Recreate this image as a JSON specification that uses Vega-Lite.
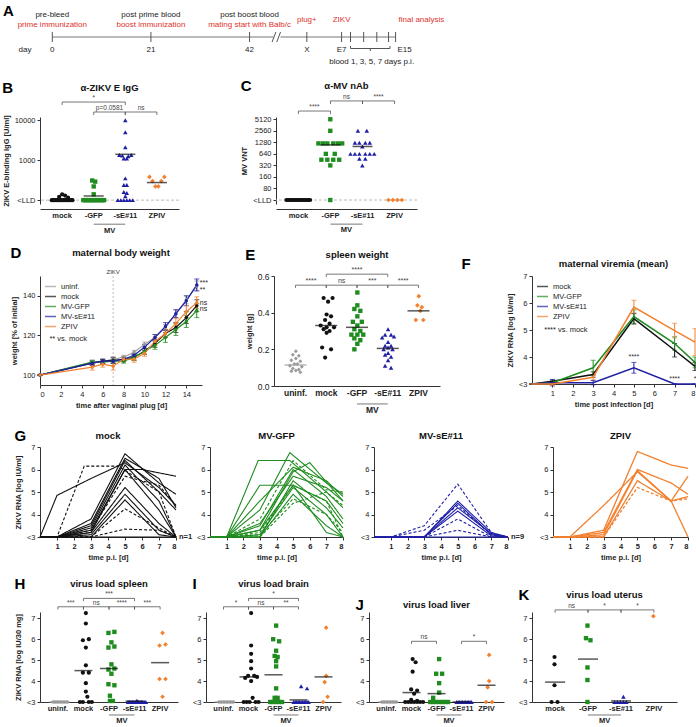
{
"$schema": "https://vega.github.io/schema/vega-lite/v6.json",
"padding": {"left": 2, "top": 4, "right": 2, "bottom": 2},
"columns": 1,
"align": "none",
"spacing": 12,
"resolve": {"scale": {"color": "independent", "shape": "independent", "strokeDash": "independent", "size": "independent"}, "legend": {"color": "independent", "shape": "independent", "strokeDash": "independent", "size": "independent"}},
"config": {
  "font": "Liberation Sans",
  "view": {"stroke": null},
  "axis": {"grid": false, "labelFontSize": 7.5, "titleFontSize": 7.5, "titleFontWeight": "bold", "domainColor": "#333", "tickColor": "#333", "labelColor": "#222", "titleColor": "#222", "tickSize": 3, "labelPadding": 2, "titlePadding": 4, "labelOverlap": false},
  "title": {"fontSize": 9.5, "fontWeight": "bold", "color": "#111", "offset": 3},
  "legend": {"labelFontSize": 7.5, "labelColor": "#222"}
},
"datasets": {
  "TL": [
    {"t": 0, "txt": "pre-bleed", "row": "black"}, {"t": 21, "txt": "post prime blood", "row": "black"}, {"t": 42, "txt": "post boost blood", "row": "black"},
    {"t": 0, "txt": "prime immunization", "row": "red"}, {"t": 21, "txt": "boost immunization", "row": "red"}, {"t": 42, "txt": "mating start with Balb/c", "row": "red"},
    {"t": 54.2, "txt": "plug+", "row": "redmid"}, {"t": 61.6, "txt": "ZIKV", "row": "redmid"}, {"t": 78.6, "txt": "final analysis", "row": "redmid"},
    {"t": -5.8, "txt": "day", "row": "bottom"}, {"t": 0, "txt": "0", "row": "bottom"}, {"t": 21, "txt": "21", "row": "bottom"}, {"t": 42, "txt": "42", "row": "bottom"},
    {"t": 54.2, "txt": "X", "row": "bottom"}, {"t": 61.6, "txt": "E7", "row": "bottom"}, {"t": 75.0, "txt": "E15", "row": "bottom"},
    {"t": 68.0, "txt": "blood 1, 3, 5, 7 days p.i.", "row": "blood"}
  ],
  "TLt": [{"t": 0}, {"t": 21}, {"t": 42}, {"t": 54.2}, {"t": 61.6}, {"t": 63.5}, {"t": 66.3}, {"t": 69.1}, {"t": 71.6}, {"t": 73.1}],
  "Bp": [
    {"g":"mock","id":2,"v":100},{"g":"mock","id":3,"v":100},{"g":"mock","id":4,"v":100},{"g":"mock","id":5,"v":100},{"g":"mock","id":6,"v":100},{"g":"mock","id":7,"v":100},{"g":"mock","id":8,"v":100},{"g":"mock","id":9,"v":100},{"g":"mock","id":10,"v":100},{"g":"mock","id":11,"v":100},{"g":"mock","id":12,"v":100},{"g":"mock","id":13,"v":100},{"g":"mock","id":14,"v":100},{"g":"mock","id":15,"v":100},{"g":"mock","id":16,"v":100},{"g":"mock","id":7,"v":120},{"g":"mock","id":9,"v":140},{"g":"mock","id":11,"v":130},{"g":"mock","id":13,"v":115},
    {"g":"-GFP","id":2,"v":100},{"g":"-GFP","id":3,"v":100},{"g":"-GFP","id":4,"v":100},{"g":"-GFP","id":5,"v":100},{"g":"-GFP","id":6,"v":100},{"g":"-GFP","id":7,"v":100},{"g":"-GFP","id":8,"v":100},{"g":"-GFP","id":9,"v":100},{"g":"-GFP","id":10,"v":100},{"g":"-GFP","id":11,"v":100},{"g":"-GFP","id":12,"v":100},{"g":"-GFP","id":13,"v":100},{"g":"-GFP","id":14,"v":100},{"g":"-GFP","id":15,"v":100},{"g":"-GFP","id":16,"v":100},{"g":"-GFP","id":8,"v":310},{"g":"-GFP","id":10,"v":290},{"g":"-GFP","id":9,"v":220},{"g":"-GFP","id":9,"v":140},
    {"g":"-sE#11","id":9,"v":10000},{"g":"-sE#11","id":9,"v":5000},{"g":"-sE#11","id":9,"v":2100},{"g":"-sE#11","id":5,"v":1350},{"g":"-sE#11","id":7,"v":1300},{"g":"-sE#11","id":11,"v":1250},{"g":"-sE#11","id":13,"v":1350},{"g":"-sE#11","id":8,"v":1100},{"g":"-sE#11","id":10,"v":1100},{"g":"-sE#11","id":9,"v":350},{"g":"-sE#11","id":8,"v":240},{"g":"-sE#11","id":10,"v":240},{"g":"-sE#11","id":8,"v":160},{"g":"-sE#11","id":10,"v":150},{"g":"-sE#11","id":9,"v":125},{"g":"-sE#11","id":4,"v":100},{"g":"-sE#11","id":6,"v":100},{"g":"-sE#11","id":8,"v":100},{"g":"-sE#11","id":10,"v":100},{"g":"-sE#11","id":12,"v":100},{"g":"-sE#11","id":14,"v":100},
    {"g":"ZPIV","id":4,"v":380},{"g":"ZPIV","id":14,"v":380},{"g":"ZPIV","id":6,"v":300},{"g":"ZPIV","id":12,"v":300},{"g":"ZPIV","id":8,"v":220},{"g":"ZPIV","id":10,"v":220}
  ],
  "Bm": [{"g":"mock","v":105},{"g":"-GFP","v":127},{"g":"-sE#11","v":1400},{"g":"ZPIV","v":275}],
  "Bb": [{"a":"mock","b":"-sE#11","m":"-GFP","y":28400,"lo":23900,"txt":"*"},{"a":"-GFP","b":"-sE#11","y":16000,"lo":13450,"txt":"p=0.0581"},{"a":"-sE#11","b":"ZPIV","y":16000,"lo":13450,"txt":"ns"}],
  "Cp": [
    {"g":"mock","id":1,"v":40},{"g":"mock","id":2,"v":40},{"g":"mock","id":3,"v":40},{"g":"mock","id":4,"v":40},{"g":"mock","id":5,"v":40},{"g":"mock","id":6,"v":40},{"g":"mock","id":7,"v":40},{"g":"mock","id":8,"v":40},{"g":"mock","id":9,"v":40},{"g":"mock","id":10,"v":40},{"g":"mock","id":11,"v":40},{"g":"mock","id":12,"v":40},{"g":"mock","id":13,"v":40},{"g":"mock","id":14,"v":40},{"g":"mock","id":15,"v":40},{"g":"mock","id":16,"v":40},{"g":"mock","id":17,"v":40},
    {"g":"-GFP","id":9,"v":5120},{"g":"-GFP","id":9,"v":2560},{"g":"-GFP","id":1,"v":1200},{"g":"-GFP","id":4,"v":1200},{"g":"-GFP","id":7,"v":1200},{"g":"-GFP","id":11,"v":1200},{"g":"-GFP","id":14,"v":1200},{"g":"-GFP","id":17,"v":1200},{"g":"-GFP","id":6,"v":640},{"g":"-GFP","id":12,"v":640},{"g":"-GFP","id":3,"v":450},{"g":"-GFP","id":7,"v":450},{"g":"-GFP","id":11,"v":450},{"g":"-GFP","id":15,"v":450},{"g":"-GFP","id":9,"v":320},{"g":"-GFP","id":9,"v":40},
    {"g":"-sE#11","id":6,"v":2560},{"g":"-sE#11","id":12,"v":2560},{"g":"-sE#11","id":4,"v":1250},{"g":"-sE#11","id":7,"v":1250},{"g":"-sE#11","id":11,"v":1250},{"g":"-sE#11","id":14,"v":1250},{"g":"-sE#11","id":9,"v":1000},{"g":"-sE#11","id":1,"v":640},{"g":"-sE#11","id":4,"v":640},{"g":"-sE#11","id":7,"v":640},{"g":"-sE#11","id":11,"v":640},{"g":"-sE#11","id":14,"v":640},{"g":"-sE#11","id":17,"v":640},{"g":"-sE#11","id":7,"v":480},{"g":"-sE#11","id":11,"v":480},{"g":"-sE#11","id":9,"v":320},
    {"g":"ZPIV","id":5,"v":40},{"g":"ZPIV","id":8,"v":40},{"g":"ZPIV","id":11,"v":40},{"g":"ZPIV","id":14,"v":40}
  ],
  "Cm": [{"g":"mock","v":40},{"g":"-GFP","v":1100},{"g":"-sE#11","v":1000}],
  "Cb": [{"a":"mock","b":"-GFP","y":8400,"lo":7000,"txt":"****"},{"a":"-GFP","b":"-sE#11","y":15400,"lo":12800,"txt":"ns"},{"a":"-sE#11","b":"ZPIV","y":15400,"lo":12800,"txt":"****"}],
  "D": [
    {"g":"uninf.","d":0,"w":100,"e":0},{"g":"uninf.","d":5,"w":106.5,"e":1},{"g":"uninf.","d":6,"w":107,"e":1},{"g":"uninf.","d":7,"w":108,"e":1},{"g":"uninf.","d":8,"w":109,"e":1},{"g":"uninf.","d":9,"w":111.5,"e":1},{"g":"uninf.","d":10,"w":115.5,"e":1.2},{"g":"uninf.","d":11,"w":119,"e":1.5},{"g":"uninf.","d":12,"w":124,"e":1.5},{"g":"uninf.","d":13,"w":131,"e":2},{"g":"uninf.","d":14,"w":138,"e":2},{"g":"uninf.","d":15,"w":145,"e":2.5},
    {"g":"mock","d":0,"w":100,"e":0},{"g":"mock","d":5,"w":106,"e":1},{"g":"mock","d":6,"w":107,"e":1},{"g":"mock","d":7,"w":107.5,"e":1.5},{"g":"mock","d":8,"w":108,"e":1},{"g":"mock","d":9,"w":109,"e":1.5},{"g":"mock","d":10,"w":112,"e":1.5},{"g":"mock","d":11,"w":116,"e":2},{"g":"mock","d":12,"w":121,"e":2},{"g":"mock","d":13,"w":124,"e":2.5},{"g":"mock","d":14,"w":129,"e":3},{"g":"mock","d":15,"w":135,"e":3},
    {"g":"MV-GFP","d":0,"w":100,"e":0},{"g":"MV-GFP","d":5,"w":106.5,"e":1},{"g":"MV-GFP","d":6,"w":106.5,"e":1},{"g":"MV-GFP","d":7,"w":107,"e":1},{"g":"MV-GFP","d":8,"w":107,"e":1},{"g":"MV-GFP","d":9,"w":109,"e":1.5},{"g":"MV-GFP","d":10,"w":112,"e":1.5},{"g":"MV-GFP","d":11,"w":115,"e":2},{"g":"MV-GFP","d":12,"w":119,"e":2.5},{"g":"MV-GFP","d":13,"w":123,"e":3},{"g":"MV-GFP","d":14,"w":127,"e":3},{"g":"MV-GFP","d":15,"w":132.5,"e":3.5},
    {"g":"MV-sE#11","d":0,"w":100,"e":0},{"g":"MV-sE#11","d":5,"w":106,"e":1},{"g":"MV-sE#11","d":6,"w":107,"e":1},{"g":"MV-sE#11","d":7,"w":107,"e":1},{"g":"MV-sE#11","d":8,"w":108,"e":1},{"g":"MV-sE#11","d":9,"w":110,"e":1},{"g":"MV-sE#11","d":10,"w":114,"e":1.5},{"g":"MV-sE#11","d":11,"w":119,"e":1.5},{"g":"MV-sE#11","d":12,"w":124.5,"e":2},{"g":"MV-sE#11","d":13,"w":131,"e":2},{"g":"MV-sE#11","d":14,"w":137.5,"e":2.5},{"g":"MV-sE#11","d":15,"w":145.5,"e":3},
    {"g":"ZPIV","d":0,"w":100,"e":0},{"g":"ZPIV","d":5,"w":104,"e":1.5},{"g":"ZPIV","d":6,"w":105.5,"e":1.5},{"g":"ZPIV","d":7,"w":104.5,"e":2},{"g":"ZPIV","d":8,"w":108,"e":1.5},{"g":"ZPIV","d":9,"w":108,"e":1.5},{"g":"ZPIV","d":10,"w":111,"e":1.5},{"g":"ZPIV","d":11,"w":117,"e":2},{"g":"ZPIV","d":12,"w":121,"e":2},{"g":"ZPIV","d":13,"w":126,"e":2.5},{"g":"ZPIV","d":14,"w":132,"e":3},{"g":"ZPIV","d":15,"w":136.5,"e":3}
  ],
  "Dn": [{"txt":"***","v":146.5},{"txt":"**","v":143},{"txt":"ns","v":136.5},{"txt":"ns","v":133.5}],
  "Ep": [
    {"g":"uninf.","id":9,"v":0.19},{"g":"uninf.","id":7,"v":0.17},{"g":"uninf.","id":11,"v":0.165},{"g":"uninf.","id":9,"v":0.15},{"g":"uninf.","id":6,"v":0.14},{"g":"uninf.","id":12,"v":0.135},{"g":"uninf.","id":8,"v":0.12},{"g":"uninf.","id":10,"v":0.12},{"g":"uninf.","id":5,"v":0.11},{"g":"uninf.","id":13,"v":0.105},{"g":"uninf.","id":7,"v":0.095},{"g":"uninf.","id":11,"v":0.09},{"g":"uninf.","id":9,"v":0.085},{"g":"uninf.","id":6,"v":0.08},{"g":"uninf.","id":12,"v":0.075},
    {"g":"mock","id":7,"v":0.48},{"g":"mock","id":13,"v":0.48},{"g":"mock","id":10,"v":0.46},{"g":"mock","id":9,"v":0.39},{"g":"mock","id":12,"v":0.38},{"g":"mock","id":8,"v":0.36},{"g":"mock","id":11,"v":0.34},{"g":"mock","id":5,"v":0.33},{"g":"mock","id":9,"v":0.32},{"g":"mock","id":14,"v":0.32},{"g":"mock","id":7,"v":0.31},{"g":"mock","id":11,"v":0.30},{"g":"mock","id":9,"v":0.29},{"g":"mock","id":6,"v":0.21},{"g":"mock","id":12,"v":0.20},{"g":"mock","id":8,"v":0.155},
    {"g":"-GFP","id":9,"v":0.51},{"g":"-GFP","id":9,"v":0.44},{"g":"-GFP","id":7,"v":0.42},{"g":"-GFP","id":11,"v":0.41},{"g":"-GFP","id":9,"v":0.38},{"g":"-GFP","id":6,"v":0.35},{"g":"-GFP","id":12,"v":0.35},{"g":"-GFP","id":9,"v":0.33},{"g":"-GFP","id":7,"v":0.31},{"g":"-GFP","id":11,"v":0.30},{"g":"-GFP","id":5,"v":0.28},{"g":"-GFP","id":9,"v":0.28},{"g":"-GFP","id":13,"v":0.28},{"g":"-GFP","id":7,"v":0.26},{"g":"-GFP","id":11,"v":0.25},{"g":"-GFP","id":9,"v":0.23},{"g":"-GFP","id":7,"v":0.20},
    {"g":"-sE#11","id":9,"v":0.31},{"g":"-sE#11","id":7,"v":0.28},{"g":"-sE#11","id":11,"v":0.28},{"g":"-sE#11","id":5,"v":0.265},{"g":"-sE#11","id":13,"v":0.27},{"g":"-sE#11","id":9,"v":0.24},{"g":"-sE#11","id":7,"v":0.22},{"g":"-sE#11","id":11,"v":0.22},{"g":"-sE#11","id":9,"v":0.21},{"g":"-sE#11","id":6,"v":0.20},{"g":"-sE#11","id":12,"v":0.20},{"g":"-sE#11","id":9,"v":0.18},{"g":"-sE#11","id":7,"v":0.17},{"g":"-sE#11","id":11,"v":0.16},{"g":"-sE#11","id":9,"v":0.14},{"g":"-sE#11","id":7,"v":0.11},{"g":"-sE#11","id":11,"v":0.10},
    {"g":"ZPIV","id":9,"v":0.49},{"g":"ZPIV","id":8,"v":0.44},{"g":"ZPIV","id":11,"v":0.43},{"g":"ZPIV","id":10,"v":0.41},{"g":"ZPIV","id":7,"v":0.36},{"g":"ZPIV","id":12,"v":0.36}
  ],
  "Em": [{"g":"uninf.","v":0.115},{"g":"mock","v":0.33},{"g":"-GFP","v":0.32},{"g":"-sE#11","v":0.205},{"g":"ZPIV","v":0.41}],
  "Eb": [{"a":"uninf.","b":"mock","y":0.55,"lo":0.535,"txt":"****"},{"a":"mock","b":"-GFP","y":0.55,"lo":0.535,"txt":"ns"},{"a":"-GFP","b":"-sE#11","y":0.55,"lo":0.535,"txt":"***"},{"a":"-sE#11","b":"ZPIV","y":0.55,"lo":0.535,"txt":"****"},{"a":"mock","b":"-sE#11","m":"-GFP","y":0.61,"lo":0.595,"txt":"****"}],
  "F": [
    {"g":"mock","d":0,"v":3,"e":0},{"g":"mock","d":1,"v":3.1,"e":0.05},{"g":"mock","d":3,"v":3.35,"e":0.1},{"g":"mock","d":5,"v":5.42,"e":0.2},{"g":"mock","d":7,"v":4.25,"e":0.25},{"g":"mock","d":8,"v":3.65,"e":0.15},
    {"g":"MV-GFP","d":0,"v":3,"e":0},{"g":"MV-GFP","d":1,"v":3.05,"e":0.05},{"g":"MV-GFP","d":3,"v":3.6,"e":0.28},{"g":"MV-GFP","d":5,"v":5.5,"e":0.25},{"g":"MV-GFP","d":7,"v":4.5,"e":0.25},{"g":"MV-GFP","d":8,"v":3.8,"e":0.2},
    {"g":"MV-sE#11","d":0,"v":3,"e":0},{"g":"MV-sE#11","d":1,"v":3.05,"e":0.12},{"g":"MV-sE#11","d":3,"v":3.05,"e":0.08},{"g":"MV-sE#11","d":5,"v":3.6,"e":0.2},{"g":"MV-sE#11","d":7,"v":3.0,"e":0},{"g":"MV-sE#11","d":8,"v":3.0,"e":0},
    {"g":"ZPIV","d":0,"v":3,"e":0},{"g":"ZPIV","d":1,"v":3.0,"e":0.05},{"g":"ZPIV","d":3,"v":3.25,"e":0.1},{"g":"ZPIV","d":5,"v":5.85,"e":0.25},{"g":"ZPIV","d":7,"v":4.98,"e":0.27},{"g":"ZPIV","d":8,"v":4.55,"e":0.5}
  ],
  "Fn": [{"d":5,"v":3.82,"txt":"****"},{"d":7,"v":3.0,"txt":"****"},{"d":8,"v":3.0,"txt":"*"}],
  "G": [
    {"p":"mock","a":1,"k":"a","d":[0,1,3,5,7,8],"v":[3,3,3.8,6.7,5.4,4.9]},
    {"p":"mock","a":2,"k":"a","d":[0,1,3,5,7,8],"v":[3,3,3.6,6.5,5.6,4.3]},
    {"p":"mock","a":3,"k":"a","d":[0,1,3,5,7,8],"v":[3,3,3.5,6.4,5.0,4.2]},
    {"p":"mock","a":4,"k":"a","d":[0,1,3,5,7,8],"v":[3,3,3.4,6.2,4.6,3.0]},
    {"p":"mock","a":5,"k":"a","d":[0,1,3,5,7,8],"v":[3,3,3.3,6.0,4.2,3.0]},
    {"p":"mock","a":6,"k":"a","d":[0,1,3,5,7,8],"v":[3,3,3.2,5.2,3.6,3.0]},
    {"p":"mock","a":7,"k":"a","d":[0,1,3,5,7,8],"v":[3,3,3.1,4.9,3.3,3.0]},
    {"p":"mock","a":8,"k":"a","d":[0,1,3,5,7,8],"v":[3,3,3.0,4.65,3.1,3.0]},
    {"p":"mock","a":9,"k":"a","d":[0,1,3,5,7,8],"v":[3,4.85,5.6,6.3,5.2,4.4]},
    {"p":"mock","a":10,"k":"b","d":[0,1,2.6,4.6,7,8],"v":[3,3,6.15,6.15,5.0,3.0]},
    {"p":"mock","a":11,"k":"b","d":[0,1,3,5,7,8],"v":[3,3,3.0,4.25,3.4,3.0]},
    {"p":"mock","a":12,"k":"b","d":[0,1,3,5,7,8],"v":[3,3,3.0,3.35,3.3,3.0]},
    {"p":"mock","a":13,"k":"b","d":[0,1,3,5,7,8],"v":[3,3,3.3,5.7,5.3,4.4]},
    {"p":"mock","a":14,"k":"a","d":[0,1,3,5,7,8],"v":[3,3,3,3,3,3]},
    {"p":"mock","a":15,"k":"a","d":[0,1,3,5,6,8],"v":[3,3,3.2,6.0,6.0,5.7]},
    {"p":"MV-GFP","a":1,"k":"a","d":[0,1,3,5,7,8],"v":[3,3,5.3,5.3,4.6,3.6]},
    {"p":"MV-GFP","a":2,"k":"a","d":[0,1,3,4.8,7,8],"v":[3,3,4.2,6.75,5.4,4.9]},
    {"p":"MV-GFP","a":3,"k":"a","d":[0,1,2.9,4.8,7,8],"v":[3,3,6.4,6.4,5.0,4.3]},
    {"p":"MV-GFP","a":4,"k":"a","d":[0,1,3,5,6,8],"v":[3,3,3.3,5.9,6.3,4.6]},
    {"p":"MV-GFP","a":5,"k":"a","d":[0,1,3,5,7,8],"v":[3,3,3.0,5.5,4.3,3.4]},
    {"p":"MV-GFP","a":6,"k":"a","d":[0,1,3,5,7,8],"v":[3,3,3.1,5.2,4.0,3.0]},
    {"p":"MV-GFP","a":7,"k":"a","d":[0,1,3,5,7,8],"v":[3,3,3.5,6.0,4.8,3.8]},
    {"p":"MV-GFP","a":8,"k":"b","d":[0,1,3,5,7,8],"v":[3,3,3.1,4.7,4.0,3.2]},
    {"p":"MV-GFP","a":9,"k":"b","d":[0,1,3,5,7,8],"v":[3,3,3.0,4.5,5.0,4.4]},
    {"p":"MV-GFP","a":10,"k":"a","d":[0,1,3,5,7,8],"v":[3,3,3.6,5.7,5.2,4.6]},
    {"p":"MV-GFP","a":11,"k":"a","d":[0,1,3,5,7,8],"v":[3,3,3.0,4.9,3.5,3.0]},
    {"p":"MV-GFP","a":12,"k":"b","d":[0,1,3,5,7,8],"v":[3,3,3.2,5.3,4.6,3.0]},
    {"p":"MV-GFP","a":13,"k":"a","d":[0,1,3,5,7,8],"v":[3,3,4.6,6.1,5.5,4.8]},
    {"p":"MV-GFP","a":14,"k":"b","d":[0,1,3,5,7,8],"v":[3,3,3.8,6.4,5.1,5.0]},
    {"p":"MV-GFP","a":15,"k":"a","d":[0,1,3,5,7,8],"v":[3,3,3.3,5.3,3.2,3.0]},
    {"p":"MV-sE#11","a":1,"k":"b","d":[0,1,3,5,7,8],"v":[3,3,3.5,5.35,3.2,3.0]},
    {"p":"MV-sE#11","a":2,"k":"a","d":[0,1,3,5,7,8],"v":[3,3,3.0,4.6,3.2,3.0]},
    {"p":"MV-sE#11","a":3,"k":"a","d":[0,1,3,5,7,8],"v":[3,3,3.0,4.5,3.1,3.0]},
    {"p":"MV-sE#11","a":4,"k":"b","d":[0,1,3,5,7,8],"v":[3,3,3.3,4.4,3.1,3.0]},
    {"p":"MV-sE#11","a":5,"k":"a","d":[0,1,3,5,7,8],"v":[3,3,3.0,4.15,3.05,3.0]},
    {"p":"MV-sE#11","a":6,"k":"b","d":[0,1,3,5,7,8],"v":[3,3,3.0,3.8,3.0,3.0]},
    {"p":"MV-sE#11","a":7,"k":"b","d":[0,1,3,5,7,8],"v":[3,3,3.0,3.3,3.0,3.0]},
    {"p":"MV-sE#11","a":8,"k":"a","d":[0,1,3,5,7,8],"v":[3,3,3.0,4.3,3.15,3.0]},
    {"p":"MV-sE#11","a":9,"k":"a","d":[0,1,3,5,7,8],"v":[3,3,3,3,3,3]},
    {"p":"ZPIV","a":1,"k":"a","d":[0,1,3,5,7,8],"v":[3,3,3.3,6.8,6.2,6.05]},
    {"p":"ZPIV","a":2,"k":"a","d":[0,1,3,5,7,8],"v":[3,3,3.2,6.0,5.4,4.9]},
    {"p":"ZPIV","a":3,"k":"a","d":[0,1,3,5,7,8],"v":[3,3,4.4,5.9,4.6,3.0]},
    {"p":"ZPIV","a":4,"k":"a","d":[0,1,3,5,7,8],"v":[3,3,3.0,5.5,4.6,4.8]},
    {"p":"ZPIV","a":5,"k":"b","d":[0,1,3,5,7,8],"v":[3,3,3.0,5.2,4.6,4.7]},
    {"p":"ZPIV","a":6,"k":"a","d":[0,1,3,5,7,8],"v":[3,3,3.1,5.95,4.6,5.7]}
  ],
  "Hp": [
    {"g":"uninf.","id":4,"v":3},{"g":"uninf.","id":5,"v":3},{"g":"uninf.","id":6,"v":3},{"g":"uninf.","id":7,"v":3},{"g":"uninf.","id":8,"v":3},{"g":"uninf.","id":9,"v":3},{"g":"uninf.","id":10,"v":3},{"g":"uninf.","id":11,"v":3},{"g":"uninf.","id":12,"v":3},{"g":"uninf.","id":13,"v":3},{"g":"uninf.","id":14,"v":3},
    {"g":"mock","id":9,"v":7.25},{"g":"mock","id":9,"v":6.75},{"g":"mock","id":7,"v":5.95},{"g":"mock","id":11,"v":6.0},{"g":"mock","id":9,"v":5.6},{"g":"mock","id":9,"v":4.75},{"g":"mock","id":7,"v":4.4},{"g":"mock","id":11,"v":4.4},{"g":"mock","id":9,"v":3.9},{"g":"mock","id":9,"v":3.5},{"g":"mock","id":10,"v":3.25},{"g":"mock","id":5,"v":3},{"g":"mock","id":7,"v":3},{"g":"mock","id":11,"v":3},{"g":"mock","id":13,"v":3},
    {"g":"-GFP","id":7,"v":6.3},{"g":"-GFP","id":11,"v":6.35},{"g":"-GFP","id":9,"v":5.85},{"g":"-GFP","id":7,"v":5.6},{"g":"-GFP","id":11,"v":5.65},{"g":"-GFP","id":9,"v":4.8},{"g":"-GFP","id":7,"v":4.55},{"g":"-GFP","id":11,"v":4.6},{"g":"-GFP","id":9,"v":4.35},{"g":"-GFP","id":7,"v":3.85},{"g":"-GFP","id":11,"v":3.8},{"g":"-GFP","id":8,"v":3.3},{"g":"-GFP","id":8,"v":3.05},{"g":"-GFP","id":10,"v":3.05},
    {"g":"-sE#11","id":3,"v":3},{"g":"-sE#11","id":4,"v":3},{"g":"-sE#11","id":5,"v":3},{"g":"-sE#11","id":6,"v":3},{"g":"-sE#11","id":7,"v":3},{"g":"-sE#11","id":8,"v":3},{"g":"-sE#11","id":9,"v":3.06},{"g":"-sE#11","id":10,"v":3},{"g":"-sE#11","id":11,"v":3},{"g":"-sE#11","id":12,"v":3},{"g":"-sE#11","id":13,"v":3},{"g":"-sE#11","id":14,"v":3},{"g":"-sE#11","id":15,"v":3},
    {"g":"ZPIV","id":9,"v":6.3},{"g":"ZPIV","id":7,"v":5.7},{"g":"ZPIV","id":11,"v":5.75},{"g":"ZPIV","id":7,"v":4.1},{"g":"ZPIV","id":11,"v":4.1},{"g":"ZPIV","id":9,"v":3.25}
  ],
  "Hm": [{"g":"uninf.","v":3.0},{"g":"mock","v":4.5},{"g":"-GFP","v":4.6},{"g":"-sE#11","v":3.04},{"g":"ZPIV","v":4.88}],
  "Hb": [{"a":"uninf.","b":"mock","y":7.55,"lo":7.42,"txt":"***"},{"a":"mock","b":"-GFP","y":7.55,"lo":7.42,"txt":"ns"},{"a":"-GFP","b":"-sE#11","y":7.55,"lo":7.42,"txt":"****"},{"a":"-sE#11","b":"ZPIV","y":7.55,"lo":7.42,"txt":"***"},{"a":"mock","b":"-sE#11","m":"-GFP","y":7.95,"lo":7.82,"txt":"***"}],
  "Ip": [
    {"g":"uninf.","id":4,"v":3},{"g":"uninf.","id":5,"v":3},{"g":"uninf.","id":6,"v":3},{"g":"uninf.","id":7,"v":3},{"g":"uninf.","id":8,"v":3},{"g":"uninf.","id":9,"v":3},{"g":"uninf.","id":10,"v":3},{"g":"uninf.","id":11,"v":3},{"g":"uninf.","id":12,"v":3},{"g":"uninf.","id":13,"v":3},{"g":"uninf.","id":14,"v":3},
    {"g":"mock","id":9,"v":7.25},{"g":"mock","id":9,"v":5.7},{"g":"mock","id":9,"v":5.3},{"g":"mock","id":9,"v":4.95},{"g":"mock","id":9,"v":4.6},{"g":"mock","id":7,"v":4.25},{"g":"mock","id":11,"v":4.25},{"g":"mock","id":5,"v":4.15},{"g":"mock","id":13,"v":4.2},{"g":"mock","id":9,"v":4.0},{"g":"mock","id":10,"v":3.2},{"g":"mock","id":4,"v":3},{"g":"mock","id":6,"v":3},{"g":"mock","id":8,"v":3},{"g":"mock","id":12,"v":3},{"g":"mock","id":14,"v":3},
    {"g":"-GFP","id":9,"v":6.65},{"g":"-GFP","id":7,"v":6.0},{"g":"-GFP","id":11,"v":5.9},{"g":"-GFP","id":9,"v":5.45},{"g":"-GFP","id":8,"v":5.2},{"g":"-GFP","id":10,"v":5.15},{"g":"-GFP","id":9,"v":4.95},{"g":"-GFP","id":9,"v":4.7},{"g":"-GFP","id":9,"v":3.65},{"g":"-GFP","id":8,"v":3.2},{"g":"-GFP","id":10,"v":3.2},{"g":"-GFP","id":5,"v":3},{"g":"-GFP","id":7,"v":3},{"g":"-GFP","id":9,"v":3},{"g":"-GFP","id":11,"v":3},{"g":"-GFP","id":13,"v":3},
    {"g":"-sE#11","id":9,"v":3.75},{"g":"-sE#11","id":13,"v":3.65},{"g":"-sE#11","id":4,"v":3},{"g":"-sE#11","id":5,"v":3},{"g":"-sE#11","id":6,"v":3},{"g":"-sE#11","id":7,"v":3},{"g":"-sE#11","id":8,"v":3},{"g":"-sE#11","id":9,"v":3},{"g":"-sE#11","id":10,"v":3},{"g":"-sE#11","id":11,"v":3},{"g":"-sE#11","id":12,"v":3},{"g":"-sE#11","id":13,"v":3},{"g":"-sE#11","id":14,"v":3},
    {"g":"ZPIV","id":9,"v":6.55},{"g":"ZPIV","id":9,"v":4.25},{"g":"ZPIV","id":8,"v":3.95},{"g":"ZPIV","id":10,"v":3.25},{"g":"ZPIV","id":7,"v":3.0}
  ],
  "Im": [{"g":"uninf.","v":3.0},{"g":"mock","v":4.2},{"g":"-GFP","v":4.3},{"g":"-sE#11","v":3.1},{"g":"ZPIV","v":4.2}],
  "Ib": [{"a":"uninf.","b":"mock","y":7.55,"lo":7.42,"txt":"*"},{"a":"mock","b":"-GFP","y":7.55,"lo":7.42,"txt":"ns"},{"a":"-GFP","b":"-sE#11","y":7.55,"lo":7.42,"txt":"**"},{"a":"mock","b":"-sE#11","m":"-GFP","y":7.95,"lo":7.82,"txt":"*"}],
  "Jp": [
    {"g":"uninf.","id":4,"v":3},{"g":"uninf.","id":5,"v":3},{"g":"uninf.","id":6,"v":3},{"g":"uninf.","id":7,"v":3},{"g":"uninf.","id":8,"v":3},{"g":"uninf.","id":9,"v":3},{"g":"uninf.","id":10,"v":3},{"g":"uninf.","id":11,"v":3},{"g":"uninf.","id":12,"v":3},{"g":"uninf.","id":13,"v":3},{"g":"uninf.","id":14,"v":3},
    {"g":"mock","id":8,"v":5.05},{"g":"mock","id":10,"v":4.9},{"g":"mock","id":8,"v":4.45},{"g":"mock","id":7,"v":3.6},{"g":"mock","id":11,"v":3.55},{"g":"mock","id":9,"v":3.4},{"g":"mock","id":7,"v":3.1},{"g":"mock","id":11,"v":3.05},{"g":"mock","id":3,"v":3},{"g":"mock","id":5,"v":3},{"g":"mock","id":7,"v":3},{"g":"mock","id":9,"v":3},{"g":"mock","id":11,"v":3},{"g":"mock","id":13,"v":3},{"g":"mock","id":15,"v":3},
    {"g":"-GFP","id":9,"v":5.05},{"g":"-GFP","id":7,"v":4.35},{"g":"-GFP","id":11,"v":4.35},{"g":"-GFP","id":9,"v":3.9},{"g":"-GFP","id":9,"v":3.45},{"g":"-GFP","id":5,"v":3.2},{"g":"-GFP","id":3,"v":3},{"g":"-GFP","id":5,"v":3},{"g":"-GFP","id":7,"v":3},{"g":"-GFP","id":9,"v":3},{"g":"-GFP","id":11,"v":3},{"g":"-GFP","id":13,"v":3},{"g":"-GFP","id":15,"v":3},
    {"g":"-sE#11","id":4,"v":3},{"g":"-sE#11","id":5,"v":3},{"g":"-sE#11","id":6,"v":3},{"g":"-sE#11","id":7,"v":3},{"g":"-sE#11","id":8,"v":3},{"g":"-sE#11","id":9,"v":3},{"g":"-sE#11","id":10,"v":3},{"g":"-sE#11","id":11,"v":3},{"g":"-sE#11","id":12,"v":3},{"g":"-sE#11","id":13,"v":3},{"g":"-sE#11","id":14,"v":3},
    {"g":"ZPIV","id":9,"v":5.25},{"g":"ZPIV","id":9,"v":4.0},{"g":"ZPIV","id":8,"v":3.7},{"g":"ZPIV","id":7,"v":3.0},{"g":"ZPIV","id":11,"v":3.0}
  ],
  "Jm": [{"g":"uninf.","v":3.0},{"g":"mock","v":3.45},{"g":"-GFP","v":3.4},{"g":"-sE#11","v":3.0},{"g":"ZPIV","v":3.8}],
  "Jb": [{"a":"mock","b":"-GFP","y":5.9,"lo":5.77,"txt":"ns"},{"a":"-sE#11","b":"ZPIV","y":5.9,"lo":5.77,"txt":"*"}],
  "Kp": [
    {"g":"mock","id":9,"v":5.15},{"g":"mock","id":9,"v":4.8},{"g":"mock","id":9,"v":3.8},{"g":"mock","id":7,"v":3.0},{"g":"mock","id":11,"v":3.0},
    {"g":"-GFP","id":9,"v":6.65},{"g":"-GFP","id":8,"v":6.05},{"g":"-GFP","id":11,"v":5.95},{"g":"-GFP","id":9,"v":4.65},{"g":"-GFP","id":9,"v":4.05},{"g":"-GFP","id":9,"v":3.0},
    {"g":"-sE#11","id":11,"v":3.25},{"g":"-sE#11","id":5,"v":3},{"g":"-sE#11","id":7,"v":3},{"g":"-sE#11","id":9,"v":3},{"g":"-sE#11","id":11,"v":3},{"g":"-sE#11","id":13,"v":3},
    {"g":"ZPIV","id":9,"v":7.1}
  ],
  "Km": [{"g":"mock","v":3.95},{"g":"-GFP","v":5.05},{"g":"-sE#11","v":3.05}],
  "Kb": [{"a":"mock","b":"-GFP","y":7.4,"lo":7.27,"txt":"ns"},{"a":"-GFP","b":"-sE#11","y":7.4,"lo":7.27,"txt":"*"},{"a":"-sE#11","b":"ZPIV","y":7.4,"lo":7.27,"txt":"*"}]
},
"concat": [
  {
    "width": 388, "height": 63,
    "layer": [
      {"data": {"values": [{}]}, "mark": {"type": "text", "text": "A", "fontSize": 15, "fontWeight": "bold", "align": "left", "baseline": "top"},
       "encoding": {"x": {"datum": -10.5, "type": "quantitative", "scale": {"domain": [-10.5, 80], "range": [-37, 388], "nice": false, "zero": false}, "axis": null},
                    "y": {"datum": 3.3, "type": "quantitative", "scale": {"domain": [-3, 3.3], "nice": false, "zero": false}, "axis": null}}},
      {"data": {"values": [{}]}, "mark": {"type": "rule", "color": "#777", "strokeWidth": 1}, "encoding": {"x": {"datum": 0}, "x2": {"datum": 47.1}, "y": {"datum": 0}}},
      {"data": {"values": [{}]}, "mark": {"type": "rule", "color": "#777", "strokeWidth": 1}, "encoding": {"x": {"datum": 48.6}, "x2": {"datum": 73.1}, "y": {"datum": 0}}},
      {"data": {"values": [{}]}, "mark": {"type": "rule", "color": "#555", "strokeWidth": 1}, "encoding": {"x": {"datum": 46.8}, "x2": {"datum": 47.6}, "y": {"datum": -0.5}, "y2": {"datum": 0.5}}},
      {"data": {"values": [{}]}, "mark": {"type": "rule", "color": "#555", "strokeWidth": 1}, "encoding": {"x": {"datum": 47.8}, "x2": {"datum": 48.6}, "y": {"datum": -0.5}, "y2": {"datum": 0.5}}},
      {"data": {"name": "TLt"}, "mark": {"type": "rule", "color": "#555", "strokeWidth": 1}, "encoding": {"x": {"field": "t", "type": "quantitative"}, "y": {"datum": -0.5}, "y2": {"datum": 0.5}}},
      {"data": {"values": [{}]}, "mark": {"type": "rule", "color": "#555", "strokeWidth": 1}, "encoding": {"x": {"datum": 63.5}, "x2": {"datum": 71.9}, "y": {"datum": -1.15}}},
      {"data": {"values": [{}]}, "mark": {"type": "rule", "color": "#555", "strokeWidth": 1}, "encoding": {"x": {"datum": 63.5}, "y": {"datum": -0.9}, "y2": {"datum": -1.15}}},
      {"data": {"values": [{}]}, "mark": {"type": "rule", "color": "#555", "strokeWidth": 1}, "encoding": {"x": {"datum": 71.9}, "y": {"datum": -0.9}, "y2": {"datum": -1.15}}},
      {"data": {"values": [{}]}, "mark": {"type": "rule", "color": "#555", "strokeWidth": 1}, "encoding": {"x": {"datum": 67.7}, "y": {"datum": -1.15}, "y2": {"datum": -1.4}}},
      {"data": {"name": "TL"}, "transform": [{"filter": "datum.row == 'black'"}], "mark": {"type": "text", "fontSize": 8, "color": "#222"}, "encoding": {"x": {"field": "t", "type": "quantitative"}, "y": {"datum": 2.2}, "text": {"field": "txt"}}},
      {"data": {"name": "TL"}, "transform": [{"filter": "datum.row == 'red'"}], "mark": {"type": "text", "fontSize": 8, "color": "#e0312c"}, "encoding": {"x": {"field": "t", "type": "quantitative"}, "y": {"datum": 1.2}, "text": {"field": "txt"}}},
      {"data": {"name": "TL"}, "transform": [{"filter": "datum.row == 'redmid'"}], "mark": {"type": "text", "fontSize": 8, "color": "#e0312c"}, "encoding": {"x": {"field": "t", "type": "quantitative"}, "y": {"datum": 1.7}, "text": {"field": "txt"}}},
      {"data": {"name": "TL"}, "transform": [{"filter": "datum.row == 'bottom'"}], "mark": {"type": "text", "fontSize": 8, "color": "#222"}, "encoding": {"x": {"field": "t", "type": "quantitative"}, "y": {"datum": -1.3}, "text": {"field": "txt"}}},
      {"data": {"name": "TL"}, "transform": [{"filter": "datum.row == 'blood'"}], "mark": {"type": "text", "fontSize": 8, "color": "#222"}, "encoding": {"x": {"field": "t", "type": "quantitative"}, "y": {"datum": -2.5}, "text": {"field": "txt"}}}
    ]
  },
  {
  "spacing": 10,
  "resolve": {"scale": {"color": "independent", "shape": "independent", "strokeDash": "independent", "size": "independent"}, "legend": {"color": "independent", "shape": "independent", "strokeDash": "independent", "size": "independent"}},
  "vconcat": [
  {
    "spacing": 60,
    "resolve": {"scale": {"color": "independent", "shape": "independent", "size": "independent"}, "legend": {"color": "independent", "shape": "independent", "size": "independent"}},
    "hconcat": [
      {
        "title": {"text": "B", "anchor": "start", "fontSize": 15, "fontWeight": "bold", "offset": -13, "frame": "bounds", "color": "#000"},
        "vconcat": [{
          "width": 139, "height": 87,
          "title": "α-ZIKV E IgG",
          "layer": [
            {"data": {"values": [{}]}, "mark": {"type": "rule", "color": "#bbb", "strokeDash": [3, 2]}, "encoding": {"y": {"datum": 100, "type": "quantitative", "scale": {"type": "log", "domain": [80, 12000], "nice": false}, "axis": {"values": [100, 1000, 10000], "format": "d", "labelExpr": "datum.value == 100 ? '<LLD' : datum.label", "title": "ZIKV E-binding IgG [U/ml]", "labelOverlap": false}}}},
            {"data": {"name": "Bp"}, "mark": {"type": "point", "filled": true, "opacity": 1, "strokeWidth": 0},
             "encoding": {
               "x": {"field": "g", "type": "nominal", "scale": {"domain": ["mock", "-GFP", "-sE#11", "ZPIV"], "paddingInner": 0.2, "paddingOuter": 0.3}, "axis": {"title": null, "labelAngle": 0, "labelFontWeight": "bold", "ticks": false, "offset": 5}},
               "xOffset": {"field": "id", "type": "ordinal", "scale": {"domain": [1,2,3,4,5,6,7,8,9,10,11,12,13,14,15,16,17]}},
               "y": {"field": "v", "type": "quantitative", "title": "ZIKV E-binding IgG [U/ml]"},
               "color": {"field": "g", "type": "nominal", "scale": {"domain": ["uninf.", "mock", "-GFP", "-sE#11", "ZPIV"], "range": ["#9b9b9b", "#111111", "#1e8c1e", "#1f1fa5", "#f2802f"]}, "legend": null},
               "shape": {"field": "g", "type": "nominal", "scale": {"domain": ["uninf.", "mock", "-GFP", "-sE#11", "ZPIV"], "range": ["diamond", "circle", "square", "triangle-up", "diamond"]}, "legend": null},
               "size": {"field": "g", "type": "nominal", "scale": {"domain": ["uninf.", "mock", "-GFP", "-sE#11", "ZPIV"], "range": [16, 22, 14, 16, 16]}, "legend": null}
             }},
            {"data": {"name": "Bm"}, "mark": {"type": "tick", "thickness": 1.5, "size": 20, "color": "#111"}, "encoding": {"x": {"field": "g", "type": "nominal"}, "y": {"field": "v", "type": "quantitative", "title": "ZIKV E-binding IgG [U/ml]"}}},
            {"data": {"name": "Bb"}, "mark": {"type": "rule", "color": "#555", "strokeWidth": 0.8}, "encoding": {"x": {"field": "a", "type": "nominal"}, "x2": {"field": "b"}, "y": {"field": "y", "type": "quantitative", "title": "ZIKV E-binding IgG [U/ml]"}}},
            {"data": {"name": "Bb"}, "mark": {"type": "rule", "color": "#555", "strokeWidth": 0.8}, "encoding": {"x": {"field": "a", "type": "nominal"}, "y": {"field": "y", "type": "quantitative", "title": "ZIKV E-binding IgG [U/ml]"}, "y2": {"field": "lo"}}},
            {"data": {"name": "Bb"}, "mark": {"type": "rule", "color": "#555", "strokeWidth": 0.8}, "encoding": {"x": {"field": "b", "type": "nominal"}, "y": {"field": "y", "type": "quantitative", "title": "ZIKV E-binding IgG [U/ml]"}, "y2": {"field": "lo"}}},
            {"data": {"name": "Bb"}, "transform": [{"filter": "!datum.m"}], "mark": {"type": "text", "fontSize": 6.5, "color": "#444", "baseline": "bottom", "dy": -1, "dx": 15.8}, "encoding": {"x": {"field": "a", "type": "nominal"}, "y": {"field": "y", "type": "quantitative", "title": "ZIKV E-binding IgG [U/ml]"}, "text": {"field": "txt"}}},
            {"data": {"name": "Bb"}, "transform": [{"filter": "datum.m"}], "mark": {"type": "text", "fontSize": 6.5, "color": "#444", "baseline": "bottom", "dy": -1}, "encoding": {"x": {"field": "m", "type": "nominal"}, "y": {"field": "y", "type": "quantitative", "title": "ZIKV E-binding IgG [U/ml]"}, "text": {"field": "txt"}}},
            {"data": {"values": [{}]}, "mark": {"type": "rule", "color": "#555", "strokeWidth": 0.8}, "encoding": {"x": {"datum": "-GFP"}, "x2": {"datum": "-sE#11"}, "y": {"datum": 25}}},
            {"data": {"values": [{}]}, "mark": {"type": "text", "text": "MV", "fontSize": 7.5, "fontWeight": "bold", "color": "#222", "dx": 15.8}, "encoding": {"x": {"datum": "-GFP"}, "y": {"datum": 17}}}
          ]
        }]
      },
      {
        "title": {"text": "C", "anchor": "start", "fontSize": 15, "fontWeight": "bold", "offset": -13, "frame": "bounds", "color": "#000"},
        "vconcat": [{
          "width": 141, "height": 87,
          "title": "α-MV nAb",
          "layer": [
            {"data": {"values": [{}]}, "mark": {"type": "rule", "color": "#bbb", "strokeDash": [3, 2]}, "encoding": {"y": {"datum": 40, "type": "quantitative", "scale": {"type": "log", "base": 2, "domain": [31.5, 5870], "nice": false}, "axis": {"values": [40, 80, 160, 320, 640, 1280, 2560, 5120], "format": "d", "labelExpr": "datum.value == 40 ? '<LLD' : datum.label", "title": "MV VNT", "labelOverlap": false}}}},
            {"data": {"name": "Cp"}, "mark": {"type": "point", "filled": true, "opacity": 1, "strokeWidth": 0},
             "encoding": {
               "x": {"field": "g", "type": "nominal", "scale": {"domain": ["mock", "-GFP", "-sE#11", "ZPIV"], "paddingInner": 0.2, "paddingOuter": 0.3}, "axis": {"title": null, "labelAngle": 0, "labelFontWeight": "bold", "ticks": false, "offset": 5}},
               "xOffset": {"field": "id", "type": "ordinal", "scale": {"domain": [1,2,3,4,5,6,7,8,9,10,11,12,13,14,15,16,17]}},
               "y": {"field": "v", "type": "quantitative", "title": "MV VNT"},
               "color": {"field": "g", "type": "nominal", "scale": {"domain": ["uninf.", "mock", "-GFP", "-sE#11", "ZPIV"], "range": ["#9b9b9b", "#111111", "#1e8c1e", "#1f1fa5", "#f2802f"]}, "legend": null},
               "shape": {"field": "g", "type": "nominal", "scale": {"domain": ["uninf.", "mock", "-GFP", "-sE#11", "ZPIV"], "range": ["diamond", "circle", "square", "triangle-up", "diamond"]}, "legend": null},
               "size": {"field": "g", "type": "nominal", "scale": {"domain": ["uninf.", "mock", "-GFP", "-sE#11", "ZPIV"], "range": [16, 22, 14, 16, 16]}, "legend": null}
             }},
            {"data": {"name": "Cm"}, "mark": {"type": "tick", "thickness": 1.5, "size": 20, "color": "#111"}, "encoding": {"x": {"field": "g", "type": "nominal"}, "y": {"field": "v", "type": "quantitative", "title": "MV VNT"}}},
            {"data": {"name": "Cb"}, "mark": {"type": "rule", "color": "#555", "strokeWidth": 0.8}, "encoding": {"x": {"field": "a", "type": "nominal"}, "x2": {"field": "b"}, "y": {"field": "y", "type": "quantitative", "title": "MV VNT"}}},
            {"data": {"name": "Cb"}, "mark": {"type": "rule", "color": "#555", "strokeWidth": 0.8}, "encoding": {"x": {"field": "a", "type": "nominal"}, "y": {"field": "y", "type": "quantitative", "title": "MV VNT"}, "y2": {"field": "lo"}}},
            {"data": {"name": "Cb"}, "mark": {"type": "rule", "color": "#555", "strokeWidth": 0.8}, "encoding": {"x": {"field": "b", "type": "nominal"}, "y": {"field": "y", "type": "quantitative", "title": "MV VNT"}, "y2": {"field": "lo"}}},
            {"data": {"name": "Cb"}, "mark": {"type": "text", "fontSize": 6.5, "color": "#444", "baseline": "bottom", "dy": -1, "dx": 16}, "encoding": {"x": {"field": "a", "type": "nominal"}, "y": {"field": "y", "type": "quantitative", "title": "MV VNT"}, "text": {"field": "txt"}}},
            {"data": {"values": [{}]}, "mark": {"type": "rule", "color": "#555", "strokeWidth": 0.8}, "encoding": {"x": {"datum": "-GFP"}, "x2": {"datum": "-sE#11"}, "y": {"datum": 9.4}}},
            {"data": {"values": [{}]}, "mark": {"type": "text", "text": "MV", "fontSize": 7.5, "fontWeight": "bold", "color": "#222", "dx": 16}, "encoding": {"x": {"datum": "-GFP"}, "y": {"datum": 6.5}}}
          ]
        }]
      }
    ]
  },
  {
  "spacing": 13,
  "resolve": {"scale": {"color": "independent", "shape": "independent", "strokeDash": "independent", "size": "independent"}, "legend": {"color": "independent", "shape": "independent", "strokeDash": "independent", "size": "independent"}},
  "vconcat": [
  {
    "spacing": 37,
    "resolve": {"scale": {"color": "independent", "shape": "independent", "size": "independent"}, "legend": {"color": "independent", "shape": "independent", "size": "independent"}},
    "hconcat": [
      {
        "title": {"text": "D", "anchor": "start", "fontSize": 15, "fontWeight": "bold", "offset": -13, "frame": "bounds", "color": "#000"},
        "vconcat": [{
          "width": 162, "height": 109,
          "title": {"text": "maternal body weight", "offset": 12},
          "layer": [
            {"data": {"values": [{}]}, "mark": {"type": "rule", "color": "#bbb", "strokeDash": [2, 2]},
             "encoding": {"x": {"datum": 7, "type": "quantitative", "scale": {"domain": [0, 15.5], "nice": false}, "axis": {"values": [0, 2, 4, 6, 8, 10, 12, 14], "title": "time after vaginal plug [d]", "labelOverlap": false}}}},
            {"data": {"values": [{}]}, "mark": {"type": "text", "text": "ZIKV", "fontSize": 6, "color": "#333", "baseline": "bottom", "dy": -1},
             "encoding": {"x": {"datum": 7, "type": "quantitative", "axis": {"values": [0, 2, 4, 6, 8, 10, 12, 14], "title": "time after vaginal plug [d]", "labelOverlap": false}},
                          "y": {"datum": 150, "type": "quantitative", "scale": {"domain": [95, 150], "nice": false, "zero": false}, "axis": {"values": [100, 120, 140], "title": "weight [% of initial]", "labelOverlap": false}}}},
            {"data": {"name": "D"}, "mark": {"type": "errorbar", "ticks": true, "thickness": 1},
             "encoding": {"x": {"field": "d", "type": "quantitative", "axis": {"values": [0, 2, 4, 6, 8, 10, 12, 14], "title": "time after vaginal plug [d]", "labelOverlap": false}},
                          "y": {"field": "w", "type": "quantitative", "axis": {"values": [100, 120, 140], "title": "weight [% of initial]", "labelOverlap": false}}, "yError": {"field": "e"}, "color": {"field": "g", "type": "nominal"}}},
            {"data": {"name": "D"}, "mark": {"type": "line", "strokeWidth": 1.2, "point": {"filled": true, "size": 12}},
             "encoding": {"x": {"field": "d", "type": "quantitative", "axis": {"values": [0, 2, 4, 6, 8, 10, 12, 14], "title": "time after vaginal plug [d]", "labelOverlap": false}},
                          "y": {"field": "w", "type": "quantitative", "axis": {"values": [100, 120, 140], "title": "weight [% of initial]", "labelOverlap": false}},
               "color": {"field": "g", "type": "nominal", "scale": {"domain": ["uninf.", "mock", "MV-GFP", "MV-sE#11", "ZPIV"], "range": ["#9b9b9b", "#111111", "#1e8c1e", "#1f1fa5", "#f2802f"]},
                 "legend": {"title": null, "orient": "top-left", "offset": 4, "labelFontSize": 7.5, "symbolType": "stroke", "symbolStrokeWidth": 1.5, "symbolSize": 120, "rowPadding": 0, "labelOffset": 4}}}},
            {"data": {"values": [{}]}, "mark": {"type": "text", "text": "**     vs. mock", "fontSize": 7.5, "color": "#222", "align": "left"},
             "encoding": {"x": {"datum": 0.9, "type": "quantitative", "axis": {"values": [0, 2, 4, 6, 8, 10, 12, 14], "title": "time after vaginal plug [d]", "labelOverlap": false}},
                          "y": {"datum": 118, "type": "quantitative", "axis": {"values": [100, 120, 140], "title": "weight [% of initial]", "labelOverlap": false}}}},
            {"data": {"name": "Dn"}, "mark": {"type": "text", "fontSize": 7, "color": "#222", "align": "left", "dx": 3},
             "encoding": {"x": {"datum": 15, "type": "quantitative", "axis": {"values": [0, 2, 4, 6, 8, 10, 12, 14], "title": "time after vaginal plug [d]", "labelOverlap": false}},
                          "y": {"field": "v", "type": "quantitative", "axis": {"values": [100, 120, 140], "title": "weight [% of initial]", "labelOverlap": false}}, "text": {"field": "txt"}}}
          ]
        }]
      },
      {
        "spacing": 21,
        "resolve": {"scale": {"color": "independent", "shape": "independent", "size": "independent"}, "legend": {"color": "independent", "shape": "independent", "size": "independent"}},
        "hconcat": [
      {
        "title": {"text": "E", "anchor": "start", "fontSize": 15, "fontWeight": "bold", "offset": -13, "frame": "bounds", "color": "#000"},
        "vconcat": [{
          "width": 166, "height": 110,
          "title": {"text": "spleen weight", "offset": 7},
          "layer": [
            {"data": {"name": "Ep"}, "mark": {"type": "point", "filled": true, "opacity": 1, "strokeWidth": 0},
             "encoding": {
               "x": {"field": "g", "type": "nominal", "scale": {"domain": ["uninf.", "mock", "-GFP", "-sE#11", "ZPIV"], "paddingInner": 0.2, "paddingOuter": 0.3}, "axis": {"title": null, "labelAngle": 0, "labelFontWeight": "bold", "ticks": false, "labelFontSize": 8.5}},
               "xOffset": {"field": "id", "type": "ordinal", "scale": {"domain": [1,2,3,4,5,6,7,8,9,10,11,12,13,14,15,16,17]}},
               "y": {"field": "v", "type": "quantitative", "scale": {"domain": [0, 0.6], "nice": false}, "axis": {"values": [0, 0.2, 0.4, 0.6], "format": ".1f", "title": "weight [g]", "labelFontSize": 8.5, "labelOverlap": false}},
               "color": {"field": "g", "type": "nominal", "scale": {"domain": ["uninf.", "mock", "-GFP", "-sE#11", "ZPIV"], "range": ["#9b9b9b", "#111111", "#1e8c1e", "#1f1fa5", "#f2802f"]}, "legend": null},
               "shape": {"field": "g", "type": "nominal", "scale": {"domain": ["uninf.", "mock", "-GFP", "-sE#11", "ZPIV"], "range": ["diamond", "circle", "square", "triangle-up", "diamond"]}, "legend": null},
               "size": {"field": "g", "type": "nominal", "scale": {"domain": ["uninf.", "mock", "-GFP", "-sE#11", "ZPIV"], "range": [16, 22, 16, 16, 18]}, "legend": null}
             }},
            {"data": {"name": "Em"}, "mark": {"type": "tick", "thickness": 1.5, "size": 22}, "encoding": {"x": {"field": "g", "type": "nominal"}, "y": {"field": "v", "type": "quantitative", "axis": {"values": [0, 0.2, 0.4, 0.6], "format": ".1f", "title": "weight [g]", "labelFontSize": 8.5, "labelOverlap": false}}, "color": {"condition": {"test": "datum.g == 'uninf.'", "value": "#9b9b9b"}, "value": "#111"}}},
            {"data": {"name": "Eb"}, "mark": {"type": "rule", "color": "#555", "strokeWidth": 0.8}, "encoding": {"x": {"field": "a", "type": "nominal"}, "x2": {"field": "b"}, "y": {"field": "y", "type": "quantitative", "axis": {"values": [0, 0.2, 0.4, 0.6], "format": ".1f", "title": "weight [g]", "labelFontSize": 8.5, "labelOverlap": false}}}},
            {"data": {"name": "Eb"}, "mark": {"type": "rule", "color": "#555", "strokeWidth": 0.8}, "encoding": {"x": {"field": "a", "type": "nominal"}, "y": {"field": "y", "type": "quantitative", "axis": {"values": [0, 0.2, 0.4, 0.6], "format": ".1f", "title": "weight [g]", "labelFontSize": 8.5, "labelOverlap": false}}, "y2": {"field": "lo"}}},
            {"data": {"name": "Eb"}, "mark": {"type": "rule", "color": "#555", "strokeWidth": 0.8}, "encoding": {"x": {"field": "b", "type": "nominal"}, "y": {"field": "y", "type": "quantitative", "axis": {"values": [0, 0.2, 0.4, 0.6], "format": ".1f", "title": "weight [g]", "labelFontSize": 8.5, "labelOverlap": false}}, "y2": {"field": "lo"}}},
            {"data": {"name": "Eb"}, "transform": [{"filter": "!datum.m"}], "mark": {"type": "text", "fontSize": 7, "color": "#444", "baseline": "bottom", "dy": -1, "dx": 15.4}, "encoding": {"x": {"field": "a", "type": "nominal"}, "y": {"field": "y", "type": "quantitative", "axis": {"values": [0, 0.2, 0.4, 0.6], "format": ".1f", "title": "weight [g]", "labelFontSize": 8.5, "labelOverlap": false}}, "text": {"field": "txt"}}},
            {"data": {"name": "Eb"}, "transform": [{"filter": "datum.m"}], "mark": {"type": "text", "fontSize": 7, "color": "#444", "baseline": "bottom", "dy": -1}, "encoding": {"x": {"field": "m", "type": "nominal"}, "y": {"field": "y", "type": "quantitative", "axis": {"values": [0, 0.2, 0.4, 0.6], "format": ".1f", "title": "weight [g]", "labelFontSize": 8.5, "labelOverlap": false}}, "text": {"field": "txt"}}},
            {"data": {"values": [{}]}, "mark": {"type": "rule", "color": "#555", "strokeWidth": 0.8}, "encoding": {"x": {"datum": "-GFP"}, "x2": {"datum": "-sE#11"}, "y": {"datum": -0.098, "type": "quantitative", "axis": {"values": [0, 0.2, 0.4, 0.6], "format": ".1f", "title": "weight [g]", "labelFontSize": 8.5, "labelOverlap": false}}}},
            {"data": {"values": [{}]}, "mark": {"type": "text", "text": "MV", "fontSize": 8.5, "fontWeight": "bold", "color": "#222", "dx": 15.4}, "encoding": {"x": {"datum": "-GFP"}, "y": {"datum": -0.133, "type": "quantitative", "axis": {"values": [0, 0.2, 0.4, 0.6], "format": ".1f", "title": "weight [g]", "labelFontSize": 8.5, "labelOverlap": false}}}}
          ]
        }]
      },
      {
        "title": {"text": "F", "anchor": "start", "fontSize": 15, "fontWeight": "bold", "offset": -13, "frame": "bounds", "color": "#000", "dx": -45},
        "vconcat": [{
          "width": 163, "height": 108,
          "title": {"text": "maternal viremia (mean)", "offset": 4},
          "layer": [
            {"data": {"name": "F"}, "mark": {"type": "errorbar", "ticks": true, "thickness": 1},
             "encoding": {"x": {"field": "d", "type": "quantitative", "scale": {"domain": [0, 8], "nice": false}, "axis": {"values": [1, 2, 3, 4, 5, 6, 7, 8], "title": "time post infection [d]", "labelOverlap": false}},
                          "y": {"field": "v", "type": "quantitative", "scale": {"domain": [3, 7], "nice": false, "zero": false}, "axis": {"values": [3, 4, 5, 6, 7], "labelExpr": "datum.value == 3 ? '<3' : datum.label", "title": "ZIKV RNA [log IU/ml]", "labelOverlap": false}}, "yError": {"field": "e"}, "color": {"field": "g", "type": "nominal"}}},
            {"data": {"name": "F"}, "mark": {"type": "line", "strokeWidth": 1.5},
             "encoding": {"x": {"field": "d", "type": "quantitative", "axis": {"values": [1, 2, 3, 4, 5, 6, 7, 8], "title": "time post infection [d]", "labelOverlap": false}},
                          "y": {"field": "v", "type": "quantitative", "axis": {"values": [3, 4, 5, 6, 7], "labelExpr": "datum.value == 3 ? '<3' : datum.label", "title": "ZIKV RNA [log IU/ml]", "labelOverlap": false}},
               "color": {"field": "g", "type": "nominal", "scale": {"domain": ["mock", "MV-GFP", "MV-sE#11", "ZPIV"], "range": ["#111111", "#1e8c1e", "#1f1fa5", "#f2802f"]},
                 "legend": {"title": null, "orient": "top-left", "offset": 4, "labelFontSize": 7.5, "symbolType": "stroke", "symbolStrokeWidth": 1.5, "symbolSize": 120, "rowPadding": 0, "labelOffset": 4}}}},
            {"data": {"values": [{}]}, "mark": {"type": "text", "text": "****   vs. mock", "fontSize": 7.5, "color": "#222", "align": "left"},
             "encoding": {"x": {"datum": 0.6, "type": "quantitative", "axis": {"values": [1, 2, 3, 4, 5, 6, 7, 8], "title": "time post infection [d]", "labelOverlap": false}},
                          "y": {"datum": 5.0, "type": "quantitative", "axis": {"values": [3, 4, 5, 6, 7], "labelExpr": "datum.value == 3 ? '<3' : datum.label", "title": "ZIKV RNA [log IU/ml]", "labelOverlap": false}}}},
            {"data": {"name": "Fn"}, "mark": {"type": "text", "fontSize": 7, "color": "#333", "baseline": "bottom", "dy": -2},
             "encoding": {"x": {"field": "d", "type": "quantitative", "axis": {"values": [1, 2, 3, 4, 5, 6, 7, 8], "title": "time post infection [d]", "labelOverlap": false}},
                          "y": {"field": "v", "type": "quantitative", "axis": {"values": [3, 4, 5, 6, 7], "labelExpr": "datum.value == 3 ? '<3' : datum.label", "title": "ZIKV RNA [log IU/ml]", "labelOverlap": false}}, "text": {"field": "txt"}}}
          ]
        }]
      }
        ]
      }
    ]
  },
  {
  "spacing": 15,
  "resolve": {"scale": {"color": "independent", "shape": "independent", "strokeDash": "independent", "size": "independent"}, "legend": {"color": "independent", "shape": "independent", "strokeDash": "independent", "size": "independent"}},
  "vconcat": [
  {
    "spacing": 3,
    "hconcat": [
      {
        "title": {"text": "G", "anchor": "start", "fontSize": 15, "fontWeight": "bold", "offset": -13, "frame": "bounds", "color": "#000"},
        "vconcat": [{
          "width": 136, "height": 90, "title": "mock",
          "layer": [
            {"data": {"name": "G"}, "transform": [{"filter": "datum.p == 'mock'"}, {"flatten": ["d", "v"]}], "mark": {"type": "line", "strokeWidth": 1.1, "color": "#111"},
             "encoding": {"x": {"field": "d", "type": "quantitative", "scale": {"domain": [0, 8], "nice": false}, "axis": {"values": [1, 2, 3, 4, 5, 6, 7, 8], "title": "time p.i. [d]", "labelFontWeight": "bold", "labelOverlap": false}},
               "y": {"field": "v", "type": "quantitative", "scale": {"domain": [3, 7], "nice": false, "zero": false}, "axis": {"values": [3, 4, 5, 6, 7], "labelExpr": "datum.value == 3 ? '<3' : datum.label", "title": "ZIKV RNA [log IU/ml]", "labelOverlap": false}},
               "detail": {"field": "a", "type": "nominal"},
               "strokeDash": {"field": "k", "type": "nominal", "scale": {"domain": ["a", "b"], "range": [[1, 0], [3, 2]]}, "legend": null}}},
            {"data": {"values": [{}]}, "mark": {"type": "text", "text": "n=1", "fontSize": 7.5, "fontWeight": "bold", "align": "left", "dx": 3, "color": "#222"},
             "encoding": {"x": {"datum": 8, "type": "quantitative", "axis": {"values": [1, 2, 3, 4, 5, 6, 7, 8], "title": "time p.i. [d]", "labelFontWeight": "bold", "labelOverlap": false}},
                          "y": {"datum": 3, "type": "quantitative", "axis": {"values": [3, 4, 5, 6, 7], "labelExpr": "datum.value == 3 ? '<3' : datum.label", "title": "ZIKV RNA [log IU/ml]", "labelOverlap": false}}}}
          ]
        }]
      },
      {
        "spacing": 14,
        "hconcat": [
      {
        "width": 133, "height": 90, "title": "MV-GFP",
        "layer": [
          {"data": {"name": "G"}, "transform": [{"filter": "datum.p == 'MV-GFP'"}, {"flatten": ["d", "v"]}], "mark": {"type": "line", "strokeWidth": 1.1, "color": "#1e8c1e"},
           "encoding": {"x": {"field": "d", "type": "quantitative", "scale": {"domain": [0, 8], "nice": false}, "axis": {"values": [1, 2, 3, 4, 5, 6, 7, 8], "title": "time p.i. [d]", "labelFontWeight": "bold", "labelOverlap": false}},
             "y": {"field": "v", "type": "quantitative", "scale": {"domain": [3, 7], "nice": false, "zero": false}, "axis": {"values": [3, 4, 5, 6, 7], "labelExpr": "datum.value == 3 ? '<3' : datum.label", "title": null, "labelOverlap": false}},
             "detail": {"field": "a", "type": "nominal"},
             "strokeDash": {"field": "k", "type": "nominal", "scale": {"domain": ["a", "b"], "range": [[1, 0], [3, 2]]}, "legend": null}}}
        ]
      },
      {
        "width": 134, "height": 90, "title": "MV-sE#11",
        "layer": [
          {"data": {"name": "G"}, "transform": [{"filter": "datum.p == 'MV-sE#11'"}, {"flatten": ["d", "v"]}], "mark": {"type": "line", "strokeWidth": 1.1, "color": "#1f1fa5"},
           "encoding": {"x": {"field": "d", "type": "quantitative", "scale": {"domain": [0, 8], "nice": false}, "axis": {"values": [1, 2, 3, 4, 5, 6, 7, 8], "title": "time p.i. [d]", "labelFontWeight": "bold", "labelOverlap": false}},
             "y": {"field": "v", "type": "quantitative", "scale": {"domain": [3, 7], "nice": false, "zero": false}, "axis": {"values": [3, 4, 5, 6, 7], "labelExpr": "datum.value == 3 ? '<3' : datum.label", "title": null, "labelOverlap": false}},
             "detail": {"field": "a", "type": "nominal"},
             "strokeDash": {"field": "k", "type": "nominal", "scale": {"domain": ["a", "b"], "range": [[1, 0], [3, 2]]}, "legend": null}}},
          {"data": {"values": [{}]}, "mark": {"type": "text", "text": "n=9", "fontSize": 7.5, "fontWeight": "bold", "align": "left", "dx": 3, "color": "#222"},
           "encoding": {"x": {"datum": 8, "type": "quantitative", "axis": {"values": [1, 2, 3, 4, 5, 6, 7, 8], "title": "time p.i. [d]", "labelFontWeight": "bold", "labelOverlap": false}},
                        "y": {"datum": 3, "type": "quantitative", "axis": {"values": [3, 4, 5, 6, 7], "labelExpr": "datum.value == 3 ? '<3' : datum.label", "title": null, "labelOverlap": false}}}}
        ]
      },
      {
        "width": 135, "height": 90, "title": "ZPIV",
        "layer": [
          {"data": {"name": "G"}, "transform": [{"filter": "datum.p == 'ZPIV'"}, {"flatten": ["d", "v"]}], "mark": {"type": "line", "strokeWidth": 1.3, "color": "#f2802f"},
           "encoding": {"x": {"field": "d", "type": "quantitative", "scale": {"domain": [0, 8], "nice": false}, "axis": {"values": [1, 2, 3, 4, 5, 6, 7, 8], "title": "time p.i. [d]", "labelFontWeight": "bold", "labelOverlap": false}},
             "y": {"field": "v", "type": "quantitative", "scale": {"domain": [3, 7], "nice": false, "zero": false}, "axis": {"values": [3, 4, 5, 6, 7], "labelExpr": "datum.value == 3 ? '<3' : datum.label", "title": null, "labelOverlap": false}},
             "detail": {"field": "a", "type": "nominal"},
             "strokeDash": {"field": "k", "type": "nominal", "scale": {"domain": ["a", "b"], "range": [[1, 0], [3, 2]]}, "legend": null}}}
        ]
      }
        ]
      }
    ]
  },
  {
    "spacing": 14,
    "resolve": {"scale": {"color": "independent", "shape": "independent", "size": "independent"}, "legend": {"color": "independent", "shape": "independent", "size": "independent"}},
    "hconcat": [
      {
        "title": {"text": "H", "anchor": "start", "fontSize": 15, "fontWeight": "bold", "offset": -13, "frame": "bounds", "color": "#000"},
        "vconcat": [{
          "width": 138, "height": 90, "title": "virus load spleen",
          "layer": [
            {"data": {"name": "Hp"}, "mark": {"type": "point", "filled": true, "opacity": 1, "strokeWidth": 0},
             "encoding": {
               "x": {"field": "g", "type": "nominal", "scale": {"domain": ["uninf.", "mock", "-GFP", "-sE#11", "ZPIV"], "paddingInner": 0.2, "paddingOuter": 0.3}, "axis": {"title": null, "labelAngle": 0, "labelFontWeight": "bold", "ticks": false}},
               "xOffset": {"field": "id", "type": "ordinal", "scale": {"domain": [1,2,3,4,5,6,7,8,9,10,11,12,13,14,15,16,17]}},
               "y": {"field": "v", "type": "quantitative", "scale": {"domain": [3, 7.3], "nice": false, "zero": false}, "axis": {"values": [3, 4, 5, 6, 7], "labelExpr": "datum.value == 3 ? '<3' : datum.label", "title": "ZIKV RNA [log IU/30 mg]", "labelOverlap": false}},
               "color": {"field": "g", "type": "nominal", "scale": {"domain": ["uninf.", "mock", "-GFP", "-sE#11", "ZPIV"], "range": ["#9b9b9b", "#111111", "#1e8c1e", "#1f1fa5", "#f2802f"]}, "legend": null},
               "shape": {"field": "g", "type": "nominal", "scale": {"domain": ["uninf.", "mock", "-GFP", "-sE#11", "ZPIV"], "range": ["diamond", "circle", "square", "triangle-up", "diamond"]}, "legend": null},
               "size": {"field": "g", "type": "nominal", "scale": {"domain": ["uninf.", "mock", "-GFP", "-sE#11", "ZPIV"], "range": [16, 22, 14, 16, 16]}, "legend": null}
             }},
            {"data": {"name": "Hm"}, "mark": {"type": "tick", "thickness": 1.5, "size": 18}, "encoding": {"x": {"field": "g", "type": "nominal"}, "y": {"field": "v", "type": "quantitative", "axis": {"values": [3, 4, 5, 6, 7], "labelExpr": "datum.value == 3 ? '<3' : datum.label", "title": "ZIKV RNA [log IU/30 mg]", "labelOverlap": false}}, "color": {"condition": {"test": "datum.g == 'uninf.'", "value": "#9b9b9b"}, "value": "#111"}}},
            {"data": {"name": "Hb"}, "mark": {"type": "rule", "color": "#555", "strokeWidth": 0.8}, "encoding": {"x": {"field": "a", "type": "nominal"}, "x2": {"field": "b"}, "y": {"field": "y", "type": "quantitative", "axis": {"values": [3, 4, 5, 6, 7], "labelExpr": "datum.value == 3 ? '<3' : datum.label", "title": "ZIKV RNA [log IU/30 mg]", "labelOverlap": false}}}},
            {"data": {"name": "Hb"}, "mark": {"type": "rule", "color": "#555", "strokeWidth": 0.8}, "encoding": {"x": {"field": "a", "type": "nominal"}, "y": {"field": "y", "type": "quantitative", "axis": {"values": [3, 4, 5, 6, 7], "labelExpr": "datum.value == 3 ? '<3' : datum.label", "title": "ZIKV RNA [log IU/30 mg]", "labelOverlap": false}}, "y2": {"field": "lo"}}},
            {"data": {"name": "Hb"}, "mark": {"type": "rule", "color": "#555", "strokeWidth": 0.8}, "encoding": {"x": {"field": "b", "type": "nominal"}, "y": {"field": "y", "type": "quantitative", "axis": {"values": [3, 4, 5, 6, 7], "labelExpr": "datum.value == 3 ? '<3' : datum.label", "title": "ZIKV RNA [log IU/30 mg]", "labelOverlap": false}}, "y2": {"field": "lo"}}},
            {"data": {"name": "Hb"}, "transform": [{"filter": "!datum.m"}], "mark": {"type": "text", "fontSize": 6.5, "color": "#444", "baseline": "bottom", "dy": -1, "dx": 12.8}, "encoding": {"x": {"field": "a", "type": "nominal"}, "y": {"field": "y", "type": "quantitative", "axis": {"values": [3, 4, 5, 6, 7], "labelExpr": "datum.value == 3 ? '<3' : datum.label", "title": "ZIKV RNA [log IU/30 mg]", "labelOverlap": false}}, "text": {"field": "txt"}}},
            {"data": {"name": "Hb"}, "transform": [{"filter": "datum.m"}], "mark": {"type": "text", "fontSize": 6.5, "color": "#444", "baseline": "bottom", "dy": -1}, "encoding": {"x": {"field": "m", "type": "nominal"}, "y": {"field": "y", "type": "quantitative", "axis": {"values": [3, 4, 5, 6, 7], "labelExpr": "datum.value == 3 ? '<3' : datum.label", "title": "ZIKV RNA [log IU/30 mg]", "labelOverlap": false}}, "text": {"field": "txt"}}},
            {"data": {"values": [{}]}, "mark": {"type": "rule", "color": "#555", "strokeWidth": 0.8}, "encoding": {"x": {"datum": "-GFP"}, "x2": {"datum": "-sE#11"}, "y": {"datum": 2.38, "type": "quantitative", "axis": {"values": [3, 4, 5, 6, 7], "labelExpr": "datum.value == 3 ? '<3' : datum.label", "title": "ZIKV RNA [log IU/30 mg]", "labelOverlap": false}}}},
            {"data": {"values": [{}]}, "mark": {"type": "text", "text": "MV", "fontSize": 7.5, "fontWeight": "bold", "color": "#222", "dx": 12.8}, "encoding": {"x": {"datum": "-GFP"}, "y": {"datum": 2.09, "type": "quantitative", "axis": {"values": [3, 4, 5, 6, 7], "labelExpr": "datum.value == 3 ? '<3' : datum.label", "title": "ZIKV RNA [log IU/30 mg]", "labelOverlap": false}}}}
          ]
        }]
      },
      {
        "title": {"text": "I", "anchor": "start", "fontSize": 15, "fontWeight": "bold", "offset": -13, "frame": "bounds", "color": "#000"},
        "vconcat": [{
          "width": 135, "height": 90, "title": "virus load brain",
          "layer": [
            {"data": {"name": "Ip"}, "mark": {"type": "point", "filled": true, "opacity": 1, "strokeWidth": 0},
             "encoding": {
               "x": {"field": "g", "type": "nominal", "scale": {"domain": ["uninf.", "mock", "-GFP", "-sE#11", "ZPIV"], "paddingInner": 0.2, "paddingOuter": 0.3}, "axis": {"title": null, "labelAngle": 0, "labelFontWeight": "bold", "ticks": false}},
               "xOffset": {"field": "id", "type": "ordinal", "scale": {"domain": [1,2,3,4,5,6,7,8,9,10,11,12,13,14,15,16,17]}},
               "y": {"field": "v", "type": "quantitative", "scale": {"domain": [3, 7.3], "nice": false, "zero": false}, "axis": {"values": [3, 4, 5, 6, 7], "labelExpr": "datum.value == 3 ? '<3' : datum.label", "title": null, "labelOverlap": false}},
               "color": {"field": "g", "type": "nominal", "scale": {"domain": ["uninf.", "mock", "-GFP", "-sE#11", "ZPIV"], "range": ["#9b9b9b", "#111111", "#1e8c1e", "#1f1fa5", "#f2802f"]}, "legend": null},
               "shape": {"field": "g", "type": "nominal", "scale": {"domain": ["uninf.", "mock", "-GFP", "-sE#11", "ZPIV"], "range": ["diamond", "circle", "square", "triangle-up", "diamond"]}, "legend": null},
               "size": {"field": "g", "type": "nominal", "scale": {"domain": ["uninf.", "mock", "-GFP", "-sE#11", "ZPIV"], "range": [16, 22, 14, 16, 16]}, "legend": null}
             }},
            {"data": {"name": "Im"}, "mark": {"type": "tick", "thickness": 1.5, "size": 18}, "encoding": {"x": {"field": "g", "type": "nominal"}, "y": {"field": "v", "type": "quantitative", "axis": {"values": [3, 4, 5, 6, 7], "labelExpr": "datum.value == 3 ? '<3' : datum.label", "title": null, "labelOverlap": false}}, "color": {"condition": {"test": "datum.g == 'uninf.'", "value": "#9b9b9b"}, "value": "#111"}}},
            {"data": {"name": "Ib"}, "mark": {"type": "rule", "color": "#555", "strokeWidth": 0.8}, "encoding": {"x": {"field": "a", "type": "nominal"}, "x2": {"field": "b"}, "y": {"field": "y", "type": "quantitative", "axis": {"values": [3, 4, 5, 6, 7], "labelExpr": "datum.value == 3 ? '<3' : datum.label", "title": null, "labelOverlap": false}}}},
            {"data": {"name": "Ib"}, "mark": {"type": "rule", "color": "#555", "strokeWidth": 0.8}, "encoding": {"x": {"field": "a", "type": "nominal"}, "y": {"field": "y", "type": "quantitative", "axis": {"values": [3, 4, 5, 6, 7], "labelExpr": "datum.value == 3 ? '<3' : datum.label", "title": null, "labelOverlap": false}}, "y2": {"field": "lo"}}},
            {"data": {"name": "Ib"}, "mark": {"type": "rule", "color": "#555", "strokeWidth": 0.8}, "encoding": {"x": {"field": "b", "type": "nominal"}, "y": {"field": "y", "type": "quantitative", "axis": {"values": [3, 4, 5, 6, 7], "labelExpr": "datum.value == 3 ? '<3' : datum.label", "title": null, "labelOverlap": false}}, "y2": {"field": "lo"}}},
            {"data": {"name": "Ib"}, "transform": [{"filter": "!datum.m"}], "mark": {"type": "text", "fontSize": 6.5, "color": "#444", "baseline": "bottom", "dy": -1, "dx": 12.5}, "encoding": {"x": {"field": "a", "type": "nominal"}, "y": {"field": "y", "type": "quantitative", "axis": {"values": [3, 4, 5, 6, 7], "labelExpr": "datum.value == 3 ? '<3' : datum.label", "title": null, "labelOverlap": false}}, "text": {"field": "txt"}}},
            {"data": {"name": "Ib"}, "transform": [{"filter": "datum.m"}], "mark": {"type": "text", "fontSize": 6.5, "color": "#444", "baseline": "bottom", "dy": -1}, "encoding": {"x": {"field": "m", "type": "nominal"}, "y": {"field": "y", "type": "quantitative", "axis": {"values": [3, 4, 5, 6, 7], "labelExpr": "datum.value == 3 ? '<3' : datum.label", "title": null, "labelOverlap": false}}, "text": {"field": "txt"}}},
            {"data": {"values": [{}]}, "mark": {"type": "rule", "color": "#555", "strokeWidth": 0.8}, "encoding": {"x": {"datum": "-GFP"}, "x2": {"datum": "-sE#11"}, "y": {"datum": 2.38, "type": "quantitative", "axis": {"values": [3, 4, 5, 6, 7], "labelExpr": "datum.value == 3 ? '<3' : datum.label", "title": null, "labelOverlap": false}}}},
            {"data": {"values": [{}]}, "mark": {"type": "text", "text": "MV", "fontSize": 7.5, "fontWeight": "bold", "color": "#222", "dx": 12.5}, "encoding": {"x": {"datum": "-GFP"}, "y": {"datum": 2.09, "type": "quantitative", "axis": {"values": [3, 4, 5, 6, 7], "labelExpr": "datum.value == 3 ? '<3' : datum.label", "title": null, "labelOverlap": false}}}}
          ]
        }]
      },
      {
        "title": {"text": "J", "anchor": "start", "fontSize": 15, "fontWeight": "bold", "offset": -13, "frame": "bounds", "color": "#000"},
        "vconcat": [{
          "width": 135, "height": 90, "title": "virus load liver",
          "layer": [
            {"data": {"name": "Jp"}, "mark": {"type": "point", "filled": true, "opacity": 1, "strokeWidth": 0},
             "encoding": {
               "x": {"field": "g", "type": "nominal", "scale": {"domain": ["uninf.", "mock", "-GFP", "-sE#11", "ZPIV"], "paddingInner": 0.2, "paddingOuter": 0.3}, "axis": {"title": null, "labelAngle": 0, "labelFontWeight": "bold", "ticks": false}},
               "xOffset": {"field": "id", "type": "ordinal", "scale": {"domain": [1,2,3,4,5,6,7,8,9,10,11,12,13,14,15,16,17]}},
               "y": {"field": "v", "type": "quantitative", "scale": {"domain": [3, 7.3], "nice": false, "zero": false}, "axis": {"values": [3, 4, 5, 6, 7], "labelExpr": "datum.value == 3 ? '<3' : datum.label", "title": null, "labelOverlap": false}},
               "color": {"field": "g", "type": "nominal", "scale": {"domain": ["uninf.", "mock", "-GFP", "-sE#11", "ZPIV"], "range": ["#9b9b9b", "#111111", "#1e8c1e", "#1f1fa5", "#f2802f"]}, "legend": null},
               "shape": {"field": "g", "type": "nominal", "scale": {"domain": ["uninf.", "mock", "-GFP", "-sE#11", "ZPIV"], "range": ["diamond", "circle", "square", "triangle-up", "diamond"]}, "legend": null},
               "size": {"field": "g", "type": "nominal", "scale": {"domain": ["uninf.", "mock", "-GFP", "-sE#11", "ZPIV"], "range": [16, 22, 14, 16, 16]}, "legend": null}
             }},
            {"data": {"name": "Jm"}, "mark": {"type": "tick", "thickness": 1.5, "size": 18}, "encoding": {"x": {"field": "g", "type": "nominal"}, "y": {"field": "v", "type": "quantitative", "axis": {"values": [3, 4, 5, 6, 7], "labelExpr": "datum.value == 3 ? '<3' : datum.label", "title": null, "labelOverlap": false}}, "color": {"condition": {"test": "datum.g == 'uninf.'", "value": "#9b9b9b"}, "value": "#111"}}},
            {"data": {"name": "Jb"}, "mark": {"type": "rule", "color": "#555", "strokeWidth": 0.8}, "encoding": {"x": {"field": "a", "type": "nominal"}, "x2": {"field": "b"}, "y": {"field": "y", "type": "quantitative", "axis": {"values": [3, 4, 5, 6, 7], "labelExpr": "datum.value == 3 ? '<3' : datum.label", "title": null, "labelOverlap": false}}}},
            {"data": {"name": "Jb"}, "mark": {"type": "rule", "color": "#555", "strokeWidth": 0.8}, "encoding": {"x": {"field": "a", "type": "nominal"}, "y": {"field": "y", "type": "quantitative", "axis": {"values": [3, 4, 5, 6, 7], "labelExpr": "datum.value == 3 ? '<3' : datum.label", "title": null, "labelOverlap": false}}, "y2": {"field": "lo"}}},
            {"data": {"name": "Jb"}, "mark": {"type": "rule", "color": "#555", "strokeWidth": 0.8}, "encoding": {"x": {"field": "b", "type": "nominal"}, "y": {"field": "y", "type": "quantitative", "axis": {"values": [3, 4, 5, 6, 7], "labelExpr": "datum.value == 3 ? '<3' : datum.label", "title": null, "labelOverlap": false}}, "y2": {"field": "lo"}}},
            {"data": {"name": "Jb"}, "mark": {"type": "text", "fontSize": 6.5, "color": "#444", "baseline": "bottom", "dy": -1, "dx": 12.5}, "encoding": {"x": {"field": "a", "type": "nominal"}, "y": {"field": "y", "type": "quantitative", "axis": {"values": [3, 4, 5, 6, 7], "labelExpr": "datum.value == 3 ? '<3' : datum.label", "title": null, "labelOverlap": false}}, "text": {"field": "txt"}}},
            {"data": {"values": [{}]}, "mark": {"type": "rule", "color": "#555", "strokeWidth": 0.8}, "encoding": {"x": {"datum": "-GFP"}, "x2": {"datum": "-sE#11"}, "y": {"datum": 2.38, "type": "quantitative", "axis": {"values": [3, 4, 5, 6, 7], "labelExpr": "datum.value == 3 ? '<3' : datum.label", "title": null, "labelOverlap": false}}}},
            {"data": {"values": [{}]}, "mark": {"type": "text", "text": "MV", "fontSize": 7.5, "fontWeight": "bold", "color": "#222", "dx": 12.5}, "encoding": {"x": {"datum": "-GFP"}, "y": {"datum": 2.09, "type": "quantitative", "axis": {"values": [3, 4, 5, 6, 7], "labelExpr": "datum.value == 3 ? '<3' : datum.label", "title": null, "labelOverlap": false}}}}
          ]
        }]
      },
      {
        "title": {"text": "K", "anchor": "start", "fontSize": 15, "fontWeight": "bold", "offset": -13, "frame": "bounds", "color": "#000"},
        "vconcat": [{
          "width": 145, "height": 90, "title": "virus load uterus",
          "layer": [
            {"data": {"name": "Kp"}, "mark": {"type": "point", "filled": true, "opacity": 1, "strokeWidth": 0},
             "encoding": {
               "x": {"field": "g", "type": "nominal", "scale": {"domain": ["mock", "-GFP", "-sE#11", "ZPIV"], "paddingInner": 0.2, "paddingOuter": 0.3}, "axis": {"title": null, "labelAngle": 0, "labelFontWeight": "bold", "ticks": false}},
               "xOffset": {"field": "id", "type": "ordinal", "scale": {"domain": [1,2,3,4,5,6,7,8,9,10,11,12,13,14,15,16,17]}},
               "y": {"field": "v", "type": "quantitative", "scale": {"domain": [3, 7.3], "nice": false, "zero": false}, "axis": {"values": [3, 4, 5, 6, 7], "labelExpr": "datum.value == 3 ? '<3' : datum.label", "title": null, "labelOverlap": false}},
               "color": {"field": "g", "type": "nominal", "scale": {"domain": ["uninf.", "mock", "-GFP", "-sE#11", "ZPIV"], "range": ["#9b9b9b", "#111111", "#1e8c1e", "#1f1fa5", "#f2802f"]}, "legend": null},
               "shape": {"field": "g", "type": "nominal", "scale": {"domain": ["uninf.", "mock", "-GFP", "-sE#11", "ZPIV"], "range": ["diamond", "circle", "square", "triangle-up", "diamond"]}, "legend": null},
               "size": {"field": "g", "type": "nominal", "scale": {"domain": ["uninf.", "mock", "-GFP", "-sE#11", "ZPIV"], "range": [16, 22, 14, 16, 16]}, "legend": null}
             }},
            {"data": {"name": "Km"}, "mark": {"type": "tick", "thickness": 1.5, "size": 20, "color": "#111"}, "encoding": {"x": {"field": "g", "type": "nominal"}, "y": {"field": "v", "type": "quantitative", "axis": {"values": [3, 4, 5, 6, 7], "labelExpr": "datum.value == 3 ? '<3' : datum.label", "title": null, "labelOverlap": false}}}},
            {"data": {"name": "Kb"}, "mark": {"type": "rule", "color": "#555", "strokeWidth": 0.8}, "encoding": {"x": {"field": "a", "type": "nominal"}, "x2": {"field": "b"}, "y": {"field": "y", "type": "quantitative", "axis": {"values": [3, 4, 5, 6, 7], "labelExpr": "datum.value == 3 ? '<3' : datum.label", "title": null, "labelOverlap": false}}}},
            {"data": {"name": "Kb"}, "mark": {"type": "rule", "color": "#555", "strokeWidth": 0.8}, "encoding": {"x": {"field": "a", "type": "nominal"}, "y": {"field": "y", "type": "quantitative", "axis": {"values": [3, 4, 5, 6, 7], "labelExpr": "datum.value == 3 ? '<3' : datum.label", "title": null, "labelOverlap": false}}, "y2": {"field": "lo"}}},
            {"data": {"name": "Kb"}, "mark": {"type": "rule", "color": "#555", "strokeWidth": 0.8}, "encoding": {"x": {"field": "b", "type": "nominal"}, "y": {"field": "y", "type": "quantitative", "axis": {"values": [3, 4, 5, 6, 7], "labelExpr": "datum.value == 3 ? '<3' : datum.label", "title": null, "labelOverlap": false}}, "y2": {"field": "lo"}}},
            {"data": {"name": "Kb"}, "mark": {"type": "text", "fontSize": 6.5, "color": "#444", "baseline": "bottom", "dy": -1, "dx": 16.5}, "encoding": {"x": {"field": "a", "type": "nominal"}, "y": {"field": "y", "type": "quantitative", "axis": {"values": [3, 4, 5, 6, 7], "labelExpr": "datum.value == 3 ? '<3' : datum.label", "title": null, "labelOverlap": false}}, "text": {"field": "txt"}}},
            {"data": {"values": [{}]}, "mark": {"type": "rule", "color": "#555", "strokeWidth": 0.8}, "encoding": {"x": {"datum": "-GFP"}, "x2": {"datum": "-sE#11"}, "y": {"datum": 2.38, "type": "quantitative", "axis": {"values": [3, 4, 5, 6, 7], "labelExpr": "datum.value == 3 ? '<3' : datum.label", "title": null, "labelOverlap": false}}}},
            {"data": {"values": [{}]}, "mark": {"type": "text", "text": "MV", "fontSize": 7.5, "fontWeight": "bold", "color": "#222", "dx": 16.5}, "encoding": {"x": {"datum": "-GFP"}, "y": {"datum": 2.09, "type": "quantitative", "axis": {"values": [3, 4, 5, 6, 7], "labelExpr": "datum.value == 3 ? '<3' : datum.label", "title": null, "labelOverlap": false}}}}
          ]
        }]
      }
    ]
  }
  ]
  }
  ]
  }
  ]
  }
]
}
